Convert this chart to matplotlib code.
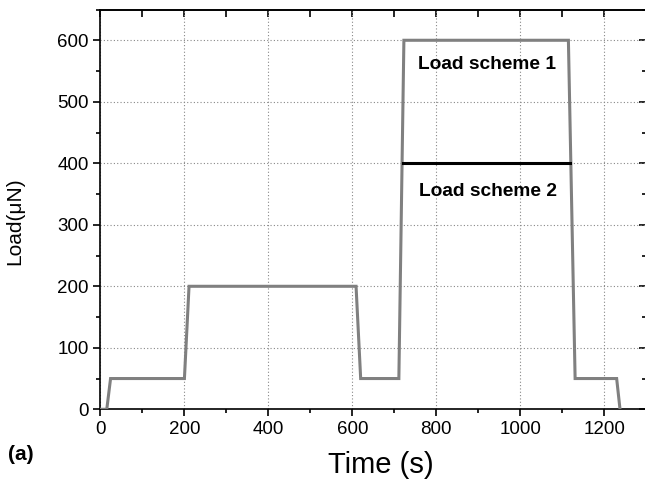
import matplotlib
matplotlib.use("Agg")
import matplotlib.pyplot as plt
from matplotlib.ticker import MultipleLocator

plt.rcParams['font.family'] = ['Liberation Sans', 'DejaVu Sans']

# Load scheme 1 (gray path)
time_s = [0, 15, 24, 200, 211, 609, 620, 711, 723, 1115, 1131, 1230, 1238]
load_uN = [0, 0, 50, 50, 200, 200, 50, 50, 600, 600, 50, 50, 0]
# Load scheme 2 (black hold segment)
scheme2_time = [721, 1119]
scheme2_load = [400, 400]

xticks = [0, 200, 400, 600, 800, 1000, 1200]
yticks = [0, 100, 200, 300, 400, 500, 600]

fig = plt.figure(figsize=(6.45, 4.83), dpi=100)
ax = fig.add_axes([0.1558, 0.1526, 0.8458, 0.8277])

ax.plot(time_s, load_uN, color='#808080', lw=2.2, solid_joinstyle='miter', zorder=3)
ax.plot(scheme2_time, scheme2_load, color='black', lw=2.2, zorder=4)

ax.set_xlim(0, 1300)
ax.set_ylim(0, 650)
ax.set_xticks(xticks)
ax.set_yticks(yticks)
ax.xaxis.set_minor_locator(MultipleLocator(100))
ax.yaxis.set_minor_locator(MultipleLocator(50))
ax.tick_params(axis='both', which='both', direction='out', top=False, right=False,
               labelsize=13.5, width=1.2, colors='black')
ax.tick_params(which='major', length=5)
ax.tick_params(which='minor', length=3)
# mirrored inward ticks on top/right
ax2 = ax.secondary_xaxis('top')
ax2.set_xticks(xticks)
ax2.xaxis.set_minor_locator(MultipleLocator(100))
ax2.tick_params(which='both', direction='in', labeltop=False, width=1.2)
ax2.tick_params(which='major', length=5)
ax2.tick_params(which='minor', length=5)
ax3 = ax.secondary_yaxis('right')
ax3.set_yticks(yticks)
ax3.yaxis.set_minor_locator(MultipleLocator(50))
ax3.tick_params(which='both', direction='in', labelright=False, width=1.2)
ax3.tick_params(which='major', length=5)
ax3.tick_params(which='minor', length=3)
for s in ax.spines.values():
    s.set_linewidth(1.2)
for a in (ax2, ax3):
    for s in a.spines.values():
        s.set_linewidth(1.2)

ax.grid(True, which='major', color='#888888', linestyle=(0, (1, 2)), lw=0.8)

ax.set_xlabel('Time (s)', fontsize=21, va='center')
ax.xaxis.set_label_coords(0.514, -0.139)
ax.set_ylabel('Load(\u03bcN)', fontsize=15, va='center')
ax.yaxis.set_label_coords(-0.157, 0.47)

ax.text(922, 560, 'Load scheme 1', fontsize=13.8, fontweight='bold', ha='center', va='center')
ax.text(923, 354, 'Load scheme 2', fontsize=13.8, fontweight='bold', ha='center', va='center')

fig.text(0.012, 0.058, '(a)', fontsize=15, fontweight='bold', ha='left', va='center')

fig.savefig('out.png', dpi=100)
